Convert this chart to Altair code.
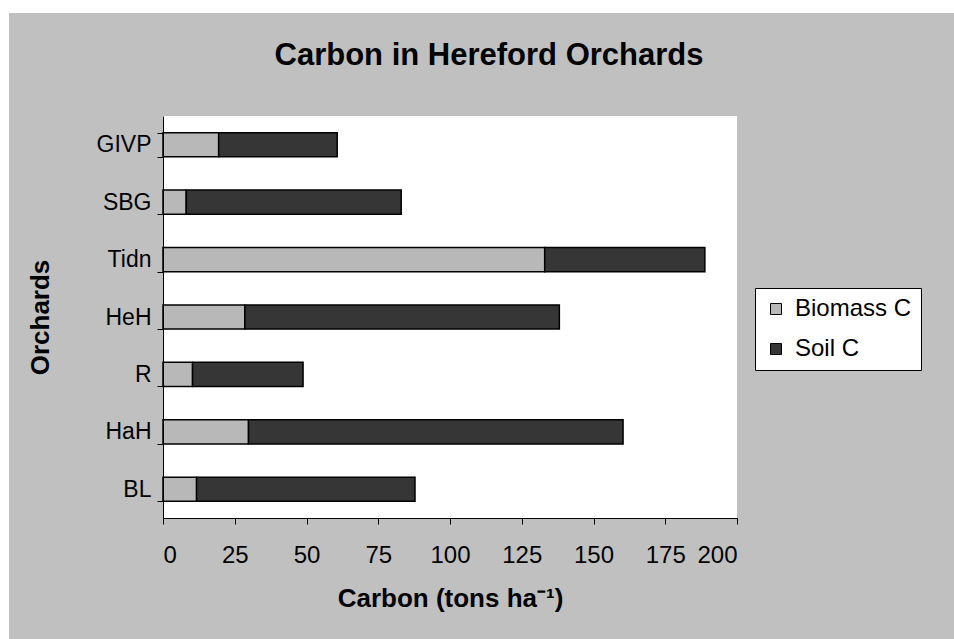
import altair as alt
import pandas as pd

orchards = ["GIVP", "SBG", "Tidn", "HeH", "R", "HaH", "BL"]
biomass_c = [19.4, 8.1, 133.0, 28.5, 10.3, 29.8, 11.7]
soil_c = [41.3, 74.9, 55.8, 109.6, 38.5, 130.5, 76.1]
series = ["Biomass C", "Soil C"]
series_colors = ["#B8B8B8", "#363636"]
x_ticks = [0, 25, 50, 75, 100, 125, 150, 175, 200]

rows = []
for o, b, s in zip(orchards, biomass_c, soil_c):
    rows.append({"Orchard": o, "Component": series[0], "Carbon": b, "k": 0})
    rows.append({"Orchard": o, "Component": series[1], "Carbon": s, "k": 1})
df = pd.DataFrame(rows)

W, H = 574, 402
PL, PT = 163, 116
FONT = "Liberation Sans"

one = pd.DataFrame({"a": [0]})
bg = alt.Chart(one).mark_rect(color="#C0C0C0").encode(
    x=alt.value(9 - PL), x2=alt.value(954 - PL),
    y=alt.value(13 - PT), y2=alt.value(639 - PT),
)
plotbg = alt.Chart(one).mark_rect(color="white").encode(
    x=alt.value(0), x2=alt.value(W), y=alt.value(0), y2=alt.value(H)
)

bars = alt.Chart(df).mark_bar(stroke="black", strokeWidth=1.5).encode(
    y=alt.Y(
        "Orchard:N", sort=orchards,
        scale=alt.Scale(paddingInner=0.58, paddingOuter=0.29),
        axis=alt.Axis(
            title="Orchards", tickBand="extent", labelPadding=6,
            labelFontSize=23, labelFont=FONT, labelColor="black",
            titleFontSize=26, titleFont=FONT, titleFontWeight="bold", titleColor="black",
            titleX=-123, titleY=H / 2, titleAngle=270, titleAlign="center",
            titleBaseline="middle", zindex=1,
        ),
    ),
    x=alt.X(
        "Carbon:Q", stack="zero",
        scale=alt.Scale(domain=[0, 200], nice=False),
        axis=alt.Axis(
            title="Carbon (tons ha⁻¹)", values=x_ticks, labelPadding=19,
            labelFontSize=24, labelFont=FONT, labelColor="black",
            titleFontSize=26, titleFont=FONT, titleFontWeight="bold", titleColor="black",
            titleX=W / 2, titleY=80, titleBaseline="middle", titleAlign="center",
            zindex=1,
        ),
    ),
    color=alt.Color(
        "Component:N",
        scale=alt.Scale(domain=series, range=series_colors),
        legend=alt.Legend(
            title=None, orient="none", legendX=592, legendY=172,
            fillColor="white", strokeColor="black", padding=9,
            symbolType="square", symbolSize=121, symbolStrokeColor="black",
            symbolStrokeWidth=1, symbolOpacity=1,
            labelFontSize=24, labelFont=FONT, labelColor="black",
            rowPadding=16, labelOffset=7,
        ),
    ),
    order=alt.Order("k:Q"),
)

chart = alt.layer(bg, plotbg, bars).properties(
    width=W, height=H,
    autosize="none",
    padding={"left": PL, "top": PT, "right": 954 - PL - W, "bottom": 639 - PT - H},
    title=alt.TitleParams(
        "Carbon in Hereford Orchards", font=FONT, fontSize=31, fontWeight="bold",
        color="black", anchor="middle", dx=39, baseline="middle", offset=-74,
    ),
    background="white",
).configure_view(stroke=None).configure_axis(
    domainColor="black", tickColor="black", domainWidth=1, tickWidth=1,
    tickSize=6, grid=False,
)

chart.save("out.html", embed_options={"renderer": "svg", "actions": False})
